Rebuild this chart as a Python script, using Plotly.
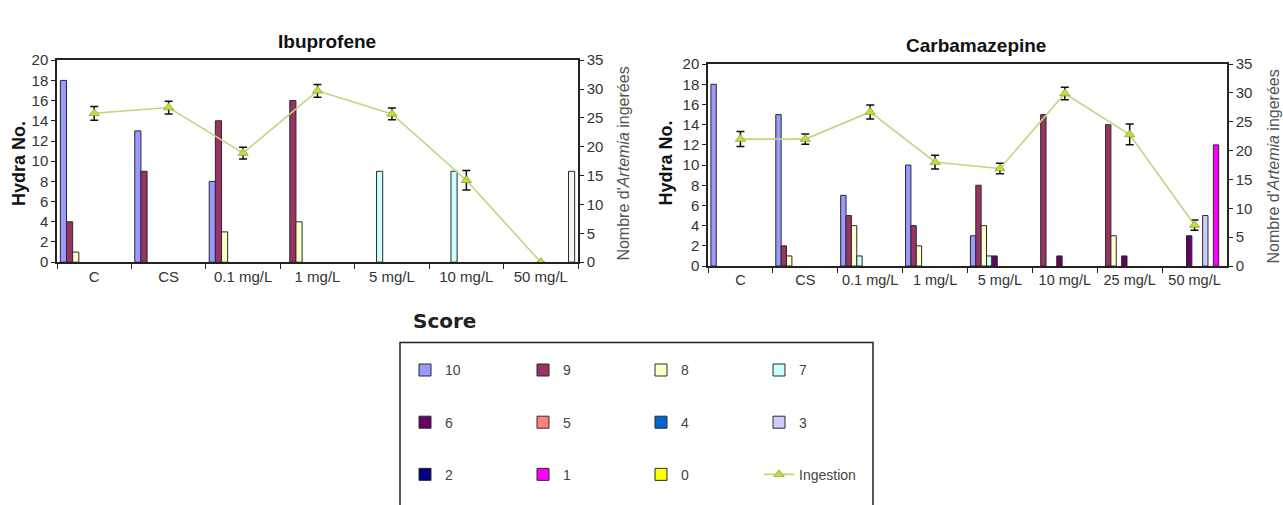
import plotly.graph_objects as go

W, H = 1283, 505

# ---------------- data ----------------
ibu_categories = ["C", "CS", "0.1 mg/L", "1 mg/L", "5 mg/L", "10 mg/L", "50 mg/L"]
carba_categories = ["C", "CS", "0.1 mg/L", "1 mg/L", "5 mg/L", "10 mg/L", "25 mg/L", "50 mg/L"]

scores = ["10", "9", "8", "7", "6", "5", "4", "3", "2", "1", "0"]
score_colors = ["#9999FF", "#993366", "#FFFFCC", "#CCFFFF", "#660066", "#FF8080",
                "#0066CC", "#CCCCFF", "#000080", "#FF00FF", "#FFFF00"]

# Ibuprofene: number of hydra per score
ibu_s10 = [18, 13, 8, 0, 0, 0, 0]
ibu_s9 = [4, 9, 14, 16, 0, 0, 0]
ibu_s8 = [1, 0, 3, 4, 0, 0, 0]
ibu_s7 = [0, 0, 0, 0, 9, 9, 0]
ibu_s6 = [0, 0, 0, 0, 0, 0, 0]
ibu_s5 = [0, 0, 0, 0, 0, 0, 0]
ibu_s4 = [0, 0, 0, 0, 0, 0, 0]
ibu_s3 = [0, 0, 0, 0, 0, 0, 0]
ibu_s2 = [0, 0, 0, 0, 0, 0, 0]
ibu_s1 = [0, 0, 0, 0, 0, 0, 0]
ibu_s0 = [0, 0, 0, 0, 0, 0, 9]
ibu_ingestion = [25.8, 26.8, 18.9, 29.7, 25.7, 14.2, 0]
ibu_ingestion_err = [1.2, 1.1, 1.0, 1.1, 1.0, 1.7, 0]

# Carbamazepine: number of hydra per score
carba_s10 = [18, 15, 7, 10, 3, 0, 0, 0]
carba_s9 = [0, 2, 5, 4, 8, 15, 14, 0]
carba_s8 = [0, 1, 4, 2, 4, 0, 3, 0]
carba_s7 = [0, 0, 1, 0, 1, 0, 0, 0]
carba_s6 = [0, 0, 0, 0, 1, 1, 1, 3]
carba_s5 = [0, 0, 0, 0, 0, 0, 0, 0]
carba_s4 = [0, 0, 0, 0, 0, 0, 0, 0]
carba_s3 = [0, 0, 0, 0, 0, 0, 0, 5]
carba_s2 = [0, 0, 0, 0, 0, 0, 0, 0]
carba_s1 = [0, 0, 0, 0, 0, 0, 0, 12]
carba_s0 = [0, 0, 0, 0, 0, 0, 0, 0]
carba_ingestion = [22.0, 22.0, 26.7, 18.0, 16.9, 29.9, 22.8, 7.1]
carba_ingestion_err = [1.3, 0.9, 1.2, 1.2, 0.9, 1.1, 1.8, 0.9]

ibu_series = [ibu_s10, ibu_s9, ibu_s8, ibu_s7, ibu_s6, ibu_s5, ibu_s4, ibu_s3, ibu_s2, ibu_s1, ibu_s0]
carba_series = [carba_s10, carba_s9, carba_s8, carba_s7, carba_s6, carba_s5, carba_s4,
                carba_s3, carba_s2, carba_s1, carba_s0]
# in the Ibuprofene panel the last series is drawn almost white
ibu_colors = score_colors[:-1] + ["#F8F8F0"]

FONT = "Liberation Sans, Arial, sans-serif"
TXT = "#333333"
LINE_COL = "#BFD67A"
MARK_COL = "#C6DC3C"


def px(x):
    return x / W


def py(y):
    return (H - y) / H


def nz(vals):
    # zero counts are not drawn (no empty outline on the axis)
    return [v if v != 0 else None for v in vals]


fig = go.Figure()

legend_rows = ["legend", "legend", "legend", "legend",
               "legend2", "legend2", "legend2", "legend2",
               "legend3", "legend3", "legend3"]

marker_style = dict(symbol="triangle-up", size=9, color=MARK_COL, line=dict(color="#8FA63A", width=0.8))

for i, s in enumerate(scores):
    fig.add_trace(go.Bar(
        x=ibu_categories, y=nz(ibu_series[i]), name=s, xaxis="x", yaxis="y",
        marker=dict(color=ibu_colors[i], line=dict(color="#2a2a2a", width=1)),
        showlegend=False))
fig.add_trace(go.Scatter(
    x=ibu_categories, y=ibu_ingestion, name="Ingestion", xaxis="x", yaxis="y2",
    mode="lines+markers",
    line=dict(color=LINE_COL, width=1.6),
    marker=marker_style,
    error_y=dict(type="data", array=ibu_ingestion_err, color="#111111", thickness=1.5, width=4),
    showlegend=False))

for i, s in enumerate(scores):
    fig.add_trace(go.Bar(
        x=carba_categories, y=nz(carba_series[i]), name=s, xaxis="x2", yaxis="y3",
        marker=dict(color=score_colors[i], line=dict(color="#2a2a2a", width=1)),
        legend=legend_rows[i], showlegend=True))
fig.add_trace(go.Scatter(
    x=carba_categories, y=carba_ingestion, name="Ingestion", xaxis="x2", yaxis="y4",
    mode="lines+markers",
    line=dict(color=LINE_COL, width=1.6),
    marker=marker_style,
    error_y=dict(type="data", array=carba_ingestion_err, color="#111111", thickness=1.5, width=4),
    legend="legend3", showlegend=True))

tickfont = dict(family=FONT, size=15, color=TXT)
xcommon = dict(type="category", showline=True, linecolor="#222222", linewidth=1.5, mirror=True,
               ticks="outside", tickson="boundaries", ticklen=5, tickcolor="#222222",
               tickangle=0, showgrid=False, zeroline=False, fixedrange=True)
ycommon = dict(showline=True, linecolor="#222222", linewidth=1.5, ticks="outside", ticklen=4,
               tickcolor="#222222", tickfont=tickfont, showgrid=False, zeroline=False,
               fixedrange=True)

ibu_y = [py(262), py(53)]
carba_y = [py(266), py(57)]

fig.update_layout(
    width=W, height=H,
    margin=dict(l=0, r=0, t=0, b=0),
    paper_bgcolor="white", plot_bgcolor="white",
    barmode="group", bargap=0.09, bargroupgap=0,
    font=dict(family=FONT, size=14, color=TXT),
    xaxis=dict(domain=[px(57), px(578)], anchor="y", tickfont=tickfont, **xcommon),
    yaxis=dict(domain=ibu_y, anchor="x", range=[0, 20], dtick=2, **ycommon),
    yaxis2=dict(overlaying="y", side="right", anchor="x", range=[0, 35], dtick=5, **ycommon),
    xaxis2=dict(domain=[px(708), px(1227)], anchor="y3",
                tickfont=dict(family=FONT, size=14.5, color=TXT), **xcommon),
    yaxis3=dict(domain=carba_y, anchor="x2", range=[0, 20], dtick=2, **ycommon),
    yaxis4=dict(overlaying="y3", side="right", anchor="x2", range=[0, 35], dtick=5, **ycommon),
)

leg_common = dict(orientation="h", entrywidth=73, entrywidthmode="pixels",
                  bgcolor="rgba(0,0,0,0)", borderwidth=0,
                  font=dict(family=FONT, size=14, color="#444444"),
                  xanchor="left", yanchor="middle", x=px(405), traceorder="normal")
fig.update_layout(
    legend=dict(y=py(374), **leg_common),
    legend2=dict(y=py(428), **leg_common),
    legend3=dict(y=py(482), **leg_common),
)

annotations = [
    dict(text="<b>Ibuprofene</b>", x=px(327), y=py(34), font=dict(family=FONT, size=19, color="#111")),
    dict(text="<b>Carbamazepine</b>", x=px(976), y=py(38), font=dict(family=FONT, size=19, color="#111")),
    dict(text="<b>Hydra No.</b>", x=px(18.5), y=py(160), textangle=-90,
         font=dict(family=FONT, size=18, color="#111")),
    dict(text="<b>Hydra No.</b>", x=px(666), y=py(160), textangle=-90,
         font=dict(family=FONT, size=18, color="#111")),
    dict(text="Nombre d'<i>Artemia</i> ingerées", x=px(624), y=py(160), textangle=-90,
         font=dict(family=FONT, size=16, color="#555")),
    dict(text="Nombre d'<i>Artemia</i> ingerées", x=px(1274), y=py(163), textangle=-90,
         font=dict(family=FONT, size=16, color="#555")),
    dict(text="<b>Score</b>", x=px(411), y=py(323), xanchor="left",
         font=dict(family="DejaVu Sans, Verdana, sans-serif", size=20, color="#222")),
]
for a in annotations:
    a.setdefault("xanchor", "center")
    a.update(xref="paper", yref="paper", yanchor="middle", showarrow=False)
fig.update_layout(annotations=annotations)

fig.add_shape(type="rect", xref="paper", yref="paper",
              x0=px(400), x1=px(873), y0=-0.2, y1=py(345),
              line=dict(color="#222222", width=1.5), fillcolor="rgba(0,0,0,0)", layer="below")

# the page itself must not add a margin around the 1283x505 figure
fig.write_html("out.html",
               config={"displayModeBar": False},
               post_script="document.body.style.margin='0';document.body.style.overflow='hidden';")
